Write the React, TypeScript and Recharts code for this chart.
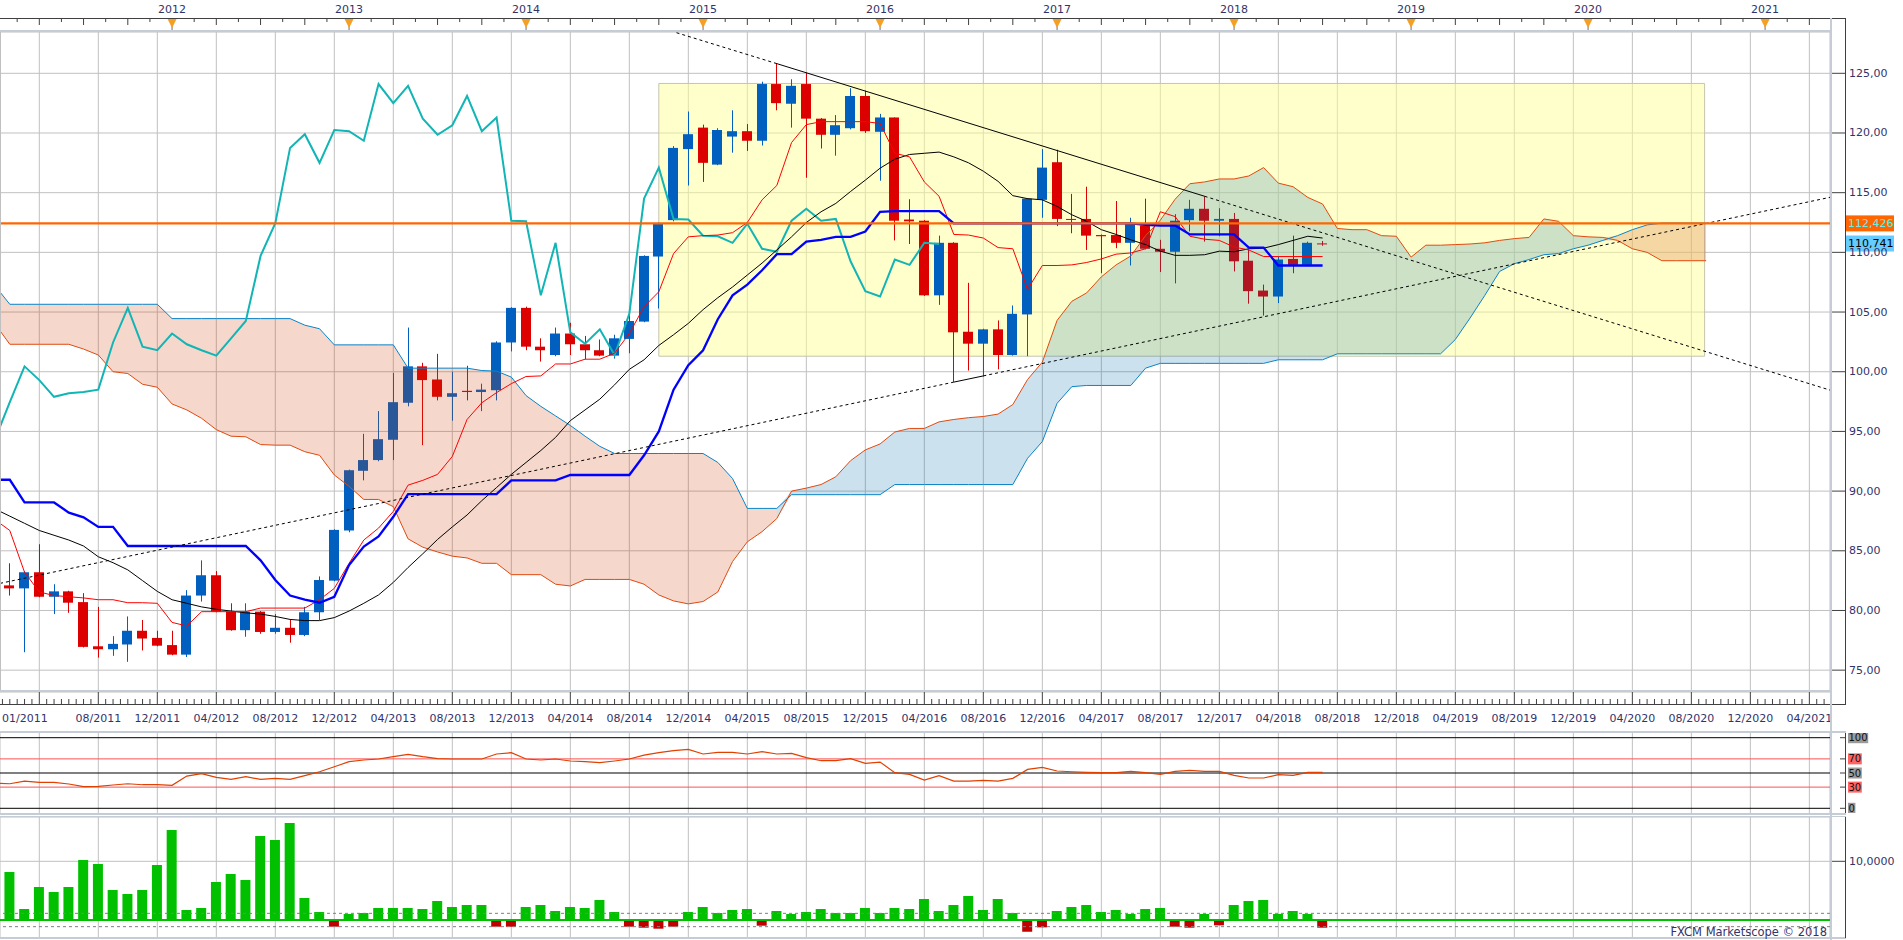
import React from "react";
import {
  ComposedChart,
  Bar,
  Line,
  Area,
  XAxis,
  YAxis,
  CartesianGrid,
  ReferenceLine,
  ReferenceArea,
  Cell,
} from "recharts";

// month index on the x axis: 0 = 01/2011, 12 = 01/2012 ...
const candleStart = 1;
const opens = [
  82.1, 81.85, 83.2, 81.15, 81.6, 80.7, 77.0, 76.75, 77.15, 78.3,
  77.7, 77.1, 76.3, 81.25, 82.95, 79.9, 78.35, 79.9, 78.2, 78.55,
  77.95, 79.85, 82.5, 86.7, 91.7, 92.6, 94.3, 97.4, 100.45, 99.35,
  97.9, 98.4, 98.3, 98.45, 102.45, 105.35, 102.1, 101.4, 103.2, 102.3,
  101.8, 101.35, 102.75, 104.2, 109.65, 112.7, 118.65, 120.45, 117.35, 119.7,
  120.15, 119.35, 124.1, 122.45, 124.1, 121.2, 119.85, 120.4, 123.1, 120.1,
  121.3, 112.75, 112.65, 106.4, 110.8, 103.35, 102.35, 103.55, 101.4, 104.8,
  114.4, 117.55, 112.8, 112.8, 111.45, 111.45, 110.8, 112.25, 110.3, 110.05,
  112.7, 113.65, 112.65, 112.8, 109.3, 106.8, 106.3, 109.45, 108.95, 110.75,
];
const highs = [
  83.95, 83.3, 85.55, 82.2, 81.65, 81.45, 80.3, 77.85, 79.5, 79.2,
  78.3, 78.3, 81.7, 84.2, 83.3, 80.6, 80.6, 79.95, 79.7, 79.2,
  80.3, 82.85, 86.8, 91.8, 94.8, 96.7, 99.9, 103.7, 100.75, 101.5,
  100.0, 100.5, 99.0, 102.55, 105.4, 105.45, 102.8, 103.7, 104.1, 103.0,
  102.7, 103.1, 104.9, 109.75, 112.5, 118.9, 121.8, 120.7, 120.4, 121.9,
  120.75, 124.3, 125.85, 124.5, 125.05, 121.25, 121.5, 123.75, 123.55, 121.6,
  121.3, 114.45, 112.7, 111.4, 110.85, 107.45, 103.6, 104.3, 105.55, 114.55,
  118.65, 118.6, 114.9, 115.5, 111.5, 114.3, 112.9, 114.5, 111.05, 113.2,
  114.4, 114.7, 113.7, 113.3, 110.25, 107.3, 109.65, 111.4, 110.9, 110.95,
];
const lows = [
  81.25, 76.5, 81.1, 79.7, 79.8, 76.9, 76.05, 76.2, 75.7, 76.65,
  77.0, 76.25, 76.1, 80.75, 79.85, 78.3, 77.8, 78.05, 78.05, 77.3,
  77.85, 79.2, 82.45, 86.55, 90.9, 92.5, 92.6, 97.1, 93.85, 97.6,
  95.9, 97.6, 96.7, 97.6, 101.7, 101.8, 100.85, 101.3, 101.4, 101.05,
  101.3, 101.1, 101.55, 104.15, 105.3, 112.6, 115.6, 115.9, 117.3, 118.35,
  118.5, 118.95, 121.9, 120.45, 116.25, 118.7, 118.1, 120.3, 120.0, 116.0,
  111.0, 110.7, 106.35, 105.6, 99.15, 100.1, 99.6, 100.2, 101.35, 101.3,
  112.9, 112.2, 111.6, 110.2, 108.25, 110.35, 108.9, 110.25, 108.35, 107.4,
  111.75, 110.9, 111.35, 108.4, 105.7, 104.7, 105.75, 108.25, 108.9, 110.55,
];
const closes = [
  81.85, 83.2, 81.15, 81.6, 80.65, 76.95, 76.75, 77.2, 78.3, 77.65,
  77.05, 76.3, 81.25, 82.95, 79.9, 78.35, 79.9, 78.2, 78.55, 77.95,
  79.85, 82.55, 86.75, 91.75, 92.6, 94.35, 97.45, 100.45, 99.3, 97.9,
  98.2, 98.3, 98.5, 102.45, 105.35, 102.1, 101.8, 103.2, 102.3, 101.8,
  101.35, 102.8, 104.25, 109.7, 112.45, 118.75, 119.9, 117.5, 120.25, 120.15,
  119.35, 124.1, 122.5, 123.95, 121.2, 119.85, 120.65, 123.1, 120.15, 121.3,
  112.65, 112.6, 106.4, 110.8, 103.3, 102.35, 103.55, 101.4, 104.85, 114.5,
  117.1, 112.8, 112.75, 111.4, 111.35, 110.8, 112.4, 110.3, 110.05, 112.65,
  113.65, 112.65, 112.8, 109.25, 106.75, 106.3, 109.4, 108.95, 110.8, 110.7,
];

// Ichimoku lines, from month 0
const tenkan = [
  87.6, 86.7, 83.2, 81.55, 81.25, 81.15, 81.05, 80.9, 80.9, 80.65,
  80.65, 80.6, 79.0, 78.7, 79.9, 79.9, 79.9, 79.9, 80.2, 80.2,
  80.2, 80.2, 80.9, 81.85, 83.95, 85.9, 86.9, 88.3, 90.5, 90.9,
  91.4, 92.9, 96.0, 97.4, 98.25, 99.0, 99.6, 99.65, 100.65, 100.65,
  101.05, 101.05, 101.55, 103.2, 105.45, 106.7, 109.9, 111.3, 111.4, 111.45,
  111.65, 112.5, 114.4, 115.6, 119.2, 120.7, 120.95, 120.95, 120.95, 120.95,
  120.8, 118.3, 118.0, 115.9, 114.7, 111.5, 111.45, 111.2, 110.4, 110.3,
  106.9, 108.9, 108.9, 108.95, 109.15, 109.45, 109.85, 109.95, 110.3, 113.4,
  113.0, 111.35, 111.1, 111.0, 110.45, 110.2, 109.65, 109.65, 109.65, 109.65,
  109.65,
];
const kijun = [
  90.95, 90.95, 89.05, 89.05, 89.05, 88.2, 87.8, 87.0, 87.0, 85.4,
  85.4, 85.4, 85.4, 85.4, 85.4, 85.4, 85.4, 85.4, 84.2, 82.55,
  81.25, 80.9, 80.65, 81.15, 83.8, 85.35, 86.2, 87.85, 89.75, 89.75,
  89.75, 89.75, 89.75, 89.75, 89.75, 90.9, 90.9, 90.9, 90.9, 91.35,
  91.35, 91.35, 91.35, 91.35, 93.0, 95.0, 98.5, 100.55, 101.8, 104.4,
  106.4, 107.3, 108.5, 109.85, 109.85, 110.9, 111.05, 111.3, 111.3, 111.75,
  113.4, 113.45, 113.45, 113.45, 113.45, 112.43, 112.43, 112.43, 112.43, 112.43,
  112.43, 112.43, 112.43, 112.43, 112.43, 112.43, 112.43, 112.43, 112.3, 112.25,
  112.25, 111.5, 111.5, 111.5, 111.5, 110.4, 110.4, 108.9, 108.9, 108.9,
  108.9,
];
const slowLine = [
  88.5, 87.9, 87.3, 86.7, 86.3, 85.9, 85.4, 84.5, 84.0, 83.4,
  82.5, 81.6, 80.9, 80.6, 80.3, 80.1, 79.95, 79.8, 79.7, 79.5,
  79.25, 79.15, 79.15, 79.4, 79.95, 80.6, 81.3, 82.35, 83.6, 84.75,
  85.95, 87.0, 88.0, 89.2, 90.3, 91.4, 92.4, 93.4, 94.5, 95.9,
  96.8, 97.7, 98.9, 100.2, 101.0, 102.2, 103.1, 104.05, 105.2, 106.2,
  107.1, 108.1, 109.1, 110.2, 111.3, 112.5, 113.4, 114.1, 115.1, 116.05,
  117.05, 117.8, 118.2, 118.3, 118.4, 118.0, 117.5, 116.8, 115.95, 114.75,
  114.5, 114.4, 113.85, 113.15, 112.6, 111.9, 111.5, 111.05, 110.65, 110.1,
  109.75, 109.75, 109.8, 110.1, 110.05, 110.3, 110.35, 110.65, 111.0, 111.35,
  111.2,
];
const chikou = [
  94.35, 97.45, 100.45, 99.3, 97.9, 98.2, 98.3, 98.5, 102.45, 105.35,
  102.1, 101.8, 103.2, 102.3, 101.8, 101.35, 102.8, 104.25, 109.7, 112.45,
  118.75, 119.9, 117.5, 120.25, 120.15, 119.35, 124.1, 122.5, 123.95, 121.2,
  119.85, 120.65, 123.1, 120.15, 121.3, 112.65, 112.6, 106.4, 110.8, 103.3,
  102.35, 103.55, 101.4, 104.85, 114.5, 117.1, 112.8, 112.75, 111.4, 111.35,
  110.8, 112.4, 110.3, 110.05, 112.65, 113.65, 112.65, 112.8, 109.25, 106.75,
  106.3, 109.4, 108.95, 110.8, 110.7,
];
const spanA = [
  104.0, 102.3, 102.3, 102.3, 102.3, 102.3, 101.9, 101.4, 100.0, 99.85,
  98.95, 98.7, 97.3, 96.8, 96.1, 95.15, 94.6, 94.55, 93.9, 93.85,
  93.85, 93.3, 93.0, 91.35, 90.4, 89.3, 89.3, 88.7, 86.0, 85.3,
  84.9, 84.55, 84.4, 83.95, 83.95, 83.0, 83.0, 83.0, 82.2, 82.05,
  82.6, 82.6, 82.6, 82.6, 82.2, 81.3, 80.8, 80.55, 80.75, 81.55,
  84.1, 85.75, 86.6, 87.7, 90.0, 90.25, 90.55, 91.2, 92.55, 93.45,
  93.95, 94.95, 95.25, 95.25, 95.8, 96.0, 96.15, 96.25, 96.45, 97.25,
  99.35, 100.8, 104.3, 105.9, 106.6, 107.95, 108.95, 109.7, 111.4, 112.7,
  114.45, 115.75, 115.9, 116.15, 116.15, 116.4, 117.1, 115.8, 115.5, 114.6,
  114.05, 112.0, 111.9, 111.9, 111.4, 111.35, 109.6, 110.6, 110.6, 110.65,
  110.7, 110.8, 111.0, 111.15, 111.25, 112.8, 112.6, 111.4, 111.3, 111.25,
  111.0, 110.3, 110.0, 109.3, 109.3, 109.3, 109.3,
];
const spanB = [
  107.2, 105.65, 105.65, 105.65, 105.65, 105.65, 105.65, 105.65, 105.65, 105.65,
  105.65, 105.65, 104.45, 104.45, 104.45, 104.45, 104.45, 104.45, 104.45, 104.45,
  104.45, 103.9, 103.6, 102.25, 102.25, 102.25, 102.25, 102.25, 100.3, 100.3,
  100.3, 100.3, 100.3, 100.1, 100.05, 99.55, 98.0, 97.1, 96.3, 95.5,
  94.6, 93.75, 93.15, 93.15, 93.15, 93.15, 93.15, 93.15, 93.15, 92.4,
  91.05, 88.55, 88.55, 88.55, 89.7, 89.7, 89.7, 89.7, 89.7, 89.7,
  89.7, 90.55, 90.55, 90.55, 90.55, 90.55, 90.55, 90.55, 90.55, 90.55,
  92.75, 94.15, 97.35, 98.75, 98.85, 98.85, 98.85, 98.85, 100.3, 100.7,
  100.7, 100.7, 100.7, 100.7, 100.7, 100.7, 100.7, 101.0, 101.0, 101.0,
  101.0, 101.5, 101.5, 101.5, 101.5, 101.5, 101.5, 101.5, 101.5, 102.7,
  104.5, 106.4, 108.4, 109.05, 109.4, 109.8, 109.9, 110.3, 110.6, 111.0,
  111.4, 111.9, 112.3, 112.45, 112.45, 112.45, 112.45,
];

// lower panels
const rsi = [
  35.5, 34.8, 38.6, 36.7, 36.7, 34.4, 30.6, 31.1, 33.0, 34.8,
  33.4, 33.4, 32.5, 45.6, 49.0, 43.8, 41.0, 44.8, 41.0, 42.4,
  41.0, 46.2, 51.8, 58.9, 66.0, 68.4, 69.8, 73.1, 76.4, 73.1,
  70.3, 69.8, 69.8, 69.8, 76.9, 78.8, 69.8, 68.4, 69.8, 67.0,
  66.0, 64.6, 67.0, 69.8, 75.4, 78.8, 81.6, 83.5, 76.9, 79.2,
  79.2, 76.9, 80.2, 76.9, 77.8, 71.7, 67.4, 67.4, 70.3, 63.6,
  65.5, 50.4, 48.1, 40.0, 46.2, 38.6, 38.6, 39.6, 38.6, 42.4,
  55.1, 58.0, 52.8, 51.8, 50.9, 50.4, 50.4, 52.3, 50.4, 48.1,
  52.3, 53.7, 52.3, 52.3, 46.6, 42.9, 42.9, 47.6, 46.6, 50.9,
  50.9,
];
const rsiLevels = [0, 30, 50, 70, 100];
const volume = [
  8180, 1870, 5620, 4770, 5620, 10220, 9540, 5110, 4430, 5110,
  9370, 15330, 1700, 2040, 6470, 7840, 6820, 14310, 13630, 16530,
  3750, 1360, -1140, 1020, 1190, 2040, 2040, 2040, 1870, 3240,
  2220, 2560, 2560, -1140, -1140, 2220, 2560, 1530, 2220, 2040,
  3410, 1360, -1140, -1310, -1480, -1140, 1360, 2220, 1190, 1700,
  1870, -970, 1530, 1020, 1360, 1870, 1190, 1190, 2040, 1190,
  2040, 1870, 3580, 1530, 2560, 4090, 1700, 3580, 1190, -1990,
  -1250, 1530, 2220, 2560, 1360, 1700, 1020, 1870, 2040, -1140,
  -1310, 1020, -910, 2560, 3240, 3410, 1020, 1530, 1020, -1310,
];
const volumeBand = 1136; // the dashed "1 / -1" lines
const volumeLabel = 10000;

// drawing objects
const levelLine = 112.426;
const lastPrice = 110.741;
const box = { x1: 45, x2: 115.9, y1: 101.3, y2: 124.15 };
const downTrend = [
  { m: 46.2, v: 128.4, dash: true },
  { m: 53, v: 125.81, dash: false },
  { m: 82, v: 114.7, dash: true },
  { m: 124.4, v: 98.46, dash: true },
];
const upTrend = [
  { m: 0.34, v: 82.27, dash: true },
  { m: 65, v: 99.13, dash: false },
  { m: 67, v: 99.65, dash: true },
  { m: 124.4, v: 114.61, dash: true },
];

const startLabel = "01/2011";
const priceTicks = [75, 80, 85, 90, 95, 100, 105, 110, 115, 120, 125];

const W = 1903;
const FONT = "'DejaVu Sans', Verdana, sans-serif";
const INK = "#33336a";
const UP = "#005fbf";
const DOWN = "#dd0000";
const GRID = "#c0c0c0";
const FRAME = "#c6ccd6";
const X_DOMAIN: [number, number] = [0.3356, 124.4];
const Y_DOMAIN: [number, number] = [73.17, 128.46];
const ZERO = { top: 0, right: 0, bottom: 0, left: 0 };

const gridMonths = Array.from({ length: 31 }, (_, i) => 3 + i * 4);
const halfMonths = Array.from({ length: 248 }, (_, i) => 0.5 + i * 0.5);
const topTicks = Array.from({ length: 82 }, (_, i) => 1.5 + i * 1.5);
const priceMinor = Array.from({ length: 110 }, (_, i) => 73.5 + i * 0.5);
const volMinor = Array.from({ length: 18 }, (_, i) => -2 * volumeBand + i * volumeBand);

const monthLabel = (m: number) =>
  `${String((m % 12) + 1).padStart(2, "0")}/${2011 + Math.floor(m / 12)}`;

// one table for the price panel (rows run past the right edge for the level line)
const bullish = spanA.map((a, i) => a >= spanB[i]);
const rows = Array.from({ length: 126 }, (_, m) => {
  const row: any = { m, level: levelLine };
  const ci = m - candleStart;
  if (ci >= 0 && ci < opens.length) {
    row.o = opens[ci];
    row.h = highs[ci];
    row.l = lows[ci];
    row.c = closes[ci];
    row.hl = [lows[ci], highs[ci]];
  }
  if (m < tenkan.length) row.tenkan = tenkan[m];
  if (m < kijun.length) row.kijun = kijun[m];
  if (m < slowLine.length) row.slow = slowLine[m];
  if (m < chikou.length) row.chikou = chikou[m];
  if (m < spanA.length) {
    row.spanA = spanA[m];
    row.spanB = spanB[m];
    const range = [Math.min(spanA[m], spanB[m]), Math.max(spanA[m], spanB[m])];
    const flipNext = m < spanA.length - 1 && bullish[m + 1] !== bullish[m];
    if (bullish[m] || flipNext) row.bull = range;
    if (!bullish[m] || flipNext) row.bear = range;
  }
  return row;
});
const rsiRows = rsi.map((v, m) => ({ m, rsi: v }));
const volRows = volume.map((v, i) => ({ m: i + candleStart, vol: v }));

function Candle(props: any) {
  const { x, y, width, height, payload } = props;
  if (!payload || payload.o == null) return null;
  const { o, h, l, c } = payload;
  const top = height >= 0 ? y : y + height;
  const span = Math.abs(height);
  const ppu = span / (h - l || 1);
  const cx = Math.round(x + width / 2) + 0.5;
  const yOf = (v: number) => top + (h - v) * ppu;
  const bTop = yOf(Math.max(o, c));
  const bBot = yOf(Math.min(o, c));
  const color = c >= o ? UP : DOWN;
  return (
    <g>
      <line x1={cx} x2={cx} y1={top} y2={top + span} stroke={color} strokeWidth={1} />
      <rect x={cx - 5.5} y={bTop} width={10} height={Math.max(1, bBot - bTop)} fill={color} />
    </g>
  );
}

function BottomTick({ x, payload }: any) {
  const v = payload.value as number;
  if ((v - 3) % 4 !== 0) {
    return <line x1={x} x2={x} y1={699} y2={704} stroke="#404040" />;
  }
  const first = v === 3;
  return (
    <g>
      <line x1={x} x2={x} y1={692} y2={704} stroke="#404040" />
      <text
        x={first ? 2 : x}
        y={718}
        textAnchor={first ? "start" : "middle"}
        dominantBaseline="central"
        fontSize={11}
        fontFamily={FONT}
        fill={INK}
      >
        {first ? startLabel : monthLabel(v)}
      </text>
    </g>
  );
}

function TopTick({ x, payload }: any) {
  const v = payload.value as number;
  if (v % 12 === 0) {
    return (
      <g>
        <line x1={x} x2={x} y1={18} y2={31} stroke="#707070" />
        <polygon points={`${x - 4.5},19 ${x + 4.5},19 ${x},28`} fill="#f5a024" />
        <text x={x} y={9} textAnchor="middle" dominantBaseline="central" fontSize={11} fontFamily={FONT} fill={INK}>
          {2011 + v / 12}
        </text>
      </g>
    );
  }
  const tall = Math.round(v / 1.5) % 2 === 0;
  return <line x1={x} x2={x} y1={18.5} y2={tall ? 25 : 22} stroke="#404040" />;
}

function PriceTick({ y, payload }: any) {
  return (
    <g>
      <line x1={1832} x2={1846} y1={y} y2={y} stroke="#404040" />
      <text x={1849} y={y} dominantBaseline="central" fontSize={11} fontFamily={FONT} fill={INK}>
        {Number(payload.value).toFixed(2).replace(".", ",")}
      </text>
    </g>
  );
}

function MinorTick({ y }: any) {
  return <line x1={1840} x2={1846} y1={y} y2={y} stroke="#404040" />;
}

function RsiTick({ y, payload }: any) {
  const v = payload.value as number;
  const txt = String(v);
  const red = v === 30 || v === 70;
  return (
    <g>
      <line x1={1840} x2={1846} y1={y} y2={y} stroke="#404040" />
      <rect x={1848} y={y - 5.5} width={txt.length * 6.4 + 1} height={11} fill={red ? "#ff6464" : "#9a9a9a"} />
      <text x={1848.5} y={y} dominantBaseline="central" fontSize={10} fontFamily={FONT} fill="#111">
        {txt}
      </text>
    </g>
  );
}

function VolTick({ y }: any) {
  return (
    <g>
      <line x1={1832} x2={1846} y1={y} y2={y} stroke="#404040" />
      <text x={1849} y={y} dominantBaseline="central" fontSize={11} fontFamily={FONT} fill={INK}>
        10,0000
      </text>
    </g>
  );
}

function VolMinorTick({ y, payload }: any) {
  const v = payload.value as number;
  const txt = v === volumeBand ? "1" : v === -volumeBand ? "-1" : "";
  return (
    <g>
      <line x1={1840} x2={1846} y1={y} y2={y} stroke="#404040" />
      {txt && (
        <>
          <rect x={1848} y={y - 5.5} width={txt.length * 6.4 + 1} height={11} fill="#9a9a9a" />
          <text x={1848.5} y={y} dominantBaseline="central" fontSize={10} fontFamily={FONT} fill="#111">
            {txt}
          </text>
        </>
      )}
    </g>
  );
}

function PriceTag({ viewBox, text, bg, color }: any) {
  const y = viewBox ? viewBox.y : 0;
  return (
    <g>
      <rect x={1846} y={y - 8} width={48} height={16} fill={bg} />
      <text x={1848} y={y} dominantBaseline="central" fontSize={11} fontFamily={FONT} fill={color}>
        {text}
      </text>
    </g>
  );
}

function segments(points: typeof downTrend, key: string) {
  return points.slice(0, -1).map((p, i) => (
    <ReferenceLine
      key={`${key}-${i}`}
      segment={[
        { x: p.m, y: p.v },
        { x: points[i + 1].m, y: points[i + 1].v },
      ]}
      stroke="#000"
      strokeWidth={1}
      strokeDasharray={p.dash ? "3 3" : undefined}
      ifOverflow="hidden"
      zIndex={450}
    />
  ));
}

export default function App() {
  return (
    <div style={{ position: "absolute", left: 0, top: 0, width: W, height: 940, background: "#fff", fontFamily: FONT }}>
      <div style={{ position: "absolute", left: 0, top: 0 }}>
        <ComposedChart width={W} height={732} data={rows} margin={ZERO}>
          <XAxis xAxisId="grid" dataKey="m" type="number" domain={X_DOMAIN} allowDataOverflow ticks={gridMonths} hide />
          <XAxis
            dataKey="m"
            type="number"
            domain={X_DOMAIN}
            allowDataOverflow
            ticks={halfMonths}
            interval={0}
            height={40}
            axisLine={false}
            tickLine={false}
            tick={<BottomTick />}
          />
          <XAxis
            xAxisId="top"
            orientation="top"
            dataKey="m"
            type="number"
            domain={X_DOMAIN}
            allowDataOverflow
            ticks={topTicks}
            interval={0}
            height={32}
            axisLine={false}
            tickLine={false}
            tick={<TopTick />}
          />
          <YAxis
            orientation="right"
            type="number"
            domain={Y_DOMAIN}
            allowDataOverflow
            ticks={priceTicks}
            interval={0}
            width={73}
            axisLine={false}
            tickLine={false}
            tick={<PriceTick />}
          />
          <YAxis
            yAxisId="minor"
            orientation="right"
            type="number"
            domain={Y_DOMAIN}
            allowDataOverflow
            ticks={priceMinor}
            interval={0}
            width={0}
            axisLine={false}
            tickLine={false}
            tick={<MinorTick />}
          />
          <CartesianGrid xAxisId="grid" stroke={GRID} />
          <ReferenceArea
            x1={box.x1}
            x2={box.x2}
            y1={box.y1}
            y2={box.y2}
            fill="#ffff99"
            fillOpacity={0.5}
            stroke="#c4c4b0"
            strokeOpacity={1}
            ifOverflow="hidden"
            zIndex={-50}
          />
          <Bar dataKey="hl" barSize={10} shape={<Candle />} isAnimationActive={false} zIndex={50} />
          <Area dataKey="bear" type="linear" stroke="none" fill="#cd3700" fillOpacity={0.2} dot={false} activeDot={false} isAnimationActive={false} zIndex={100} />
          <Area dataKey="bull" type="linear" stroke="none" fill="#0069ac" fillOpacity={0.2} dot={false} activeDot={false} isAnimationActive={false} zIndex={100} />
          {segments(downTrend, "down")}
          {segments(upTrend, "up")}
          <Line dataKey="spanA" stroke="#e04a10" strokeWidth={1} dot={false} activeDot={false} isAnimationActive={false} zIndex={400} />
          <Line dataKey="spanB" stroke="#0a84c8" strokeWidth={1} dot={false} activeDot={false} isAnimationActive={false} zIndex={400} />
          <Line dataKey="chikou" stroke="#12b5b5" strokeWidth={2} dot={false} activeDot={false} isAnimationActive={false} zIndex={400} />
          <Line dataKey="slow" stroke="#000" strokeWidth={1} dot={false} activeDot={false} isAnimationActive={false} zIndex={400} />
          <Line dataKey="tenkan" stroke="#ff0000" strokeWidth={1} dot={false} activeDot={false} isAnimationActive={false} zIndex={400} />
          <Line dataKey="kijun" stroke="#0000ff" strokeWidth={2.3} dot={false} activeDot={false} isAnimationActive={false} zIndex={400} />
          <Line dataKey="level" stroke="#ff6600" strokeWidth={2.4} dot={false} activeDot={false} isAnimationActive={false} zIndex={460} />
          <ReferenceLine
            y={levelLine}
            stroke="#ff6600"
            strokeOpacity={0}
            zIndex={460}
            label={<PriceTag text="112,426" bg="#ff6600" color="#5ff0e6" />}
          />
          <ReferenceLine
            y={lastPrice}
            stroke="#fff"
            strokeOpacity={0}
            zIndex={460}
            label={<PriceTag text="110,741" bg="#66ccff" color="#000" />}
          />
        </ComposedChart>
      </div>

      <div style={{ position: "absolute", left: 0, top: 733 }}>
        <ComposedChart width={W} height={80} data={rsiRows} margin={ZERO}>
          <XAxis dataKey="m" type="number" domain={X_DOMAIN} allowDataOverflow ticks={gridMonths} hide />
          <YAxis
            orientation="right"
            type="number"
            domain={[-6.65, 106.66]}
            allowDataOverflow
            ticks={rsiLevels}
            interval={0}
            width={73}
            axisLine={false}
            tickLine={false}
            tick={<RsiTick />}
          />
          <CartesianGrid horizontal={false} stroke={GRID} />
          {rsiLevels.map((v) => (
            <ReferenceLine key={v} y={v} stroke={v === 30 || v === 70 ? "#ff5050" : "#000"} strokeWidth={1} />
          ))}
          <Line dataKey="rsi" stroke="#e04000" strokeWidth={1.2} dot={false} activeDot={false} isAnimationActive={false} />
        </ComposedChart>
      </div>

      <div style={{ position: "absolute", left: 0, top: 817 }}>
        <ComposedChart width={W} height={121} data={volRows} margin={ZERO}>
          <XAxis dataKey="m" type="number" domain={X_DOMAIN} allowDataOverflow ticks={gridMonths} hide />
          <YAxis
            orientation="right"
            type="number"
            domain={[-3066, 17547]}
            allowDataOverflow
            ticks={[volumeLabel]}
            interval={0}
            width={73}
            axisLine={false}
            tickLine={false}
            tick={<VolTick />}
          />
          <YAxis
            yAxisId="vm"
            orientation="right"
            type="number"
            domain={[-3066, 17547]}
            allowDataOverflow
            ticks={volMinor}
            interval={0}
            width={0}
            axisLine={false}
            tickLine={false}
            tick={<VolMinorTick />}
          />
          <CartesianGrid stroke={GRID} />
          <ReferenceLine y={volumeBand} stroke="#808080" strokeDasharray="3 3" />
          <ReferenceLine y={-volumeBand} stroke="#808080" strokeDasharray="3 3" />
          <Bar dataKey="vol" barSize={10} isAnimationActive={false}>
            {volRows.map((r) => (
              <Cell key={r.m} fill={r.vol >= 0 ? "#00c000" : "#c00000"} />
            ))}
          </Bar>
          <ReferenceLine y={0} stroke="#00c000" strokeWidth={2} />
        </ComposedChart>
      </div>

      <svg width={W} height={940} style={{ position: "absolute", left: 0, top: 0, pointerEvents: "none" }}>
        <line x1={0} x2={1846} y1={18.5} y2={18.5} stroke="#404040" />
        <rect x={0} y={30} width={1830} height={2} fill={FRAME} />
        <line x1={0.5} x2={0.5} y1={32} y2={692} stroke={GRID} />
        <rect x={0} y={690} width={1830} height={2} fill={FRAME} />
        <line x1={0} x2={1846} y1={704.5} y2={704.5} stroke="#404040" />
        <rect x={0} y={731} width={1846} height={2} fill={FRAME} />
        <rect x={0} y={813} width={1846} height={2} fill={FRAME} />
        <rect x={0} y={816} width={1846} height={1} fill={FRAME} />
        <rect x={0} y={937} width={1846} height={2} fill={FRAME} />
        <rect x={1830} y={18} width={2} height={922} fill={FRAME} />
        <line x1={1845.5} x2={1845.5} y1={18} y2={704} stroke="#404040" />
        <line x1={1845.5} x2={1845.5} y1={733} y2={813} stroke="#404040" />
        <line x1={1845.5} x2={1845.5} y1={817} y2={938} stroke="#404040" />
        <text x={1827} y={932} textAnchor="end" dominantBaseline="central" fontSize={11.5} fontFamily={FONT} fill={INK}>
          FXCM Marketscope © 2018
        </text>
      </svg>
    </div>
  );
}
